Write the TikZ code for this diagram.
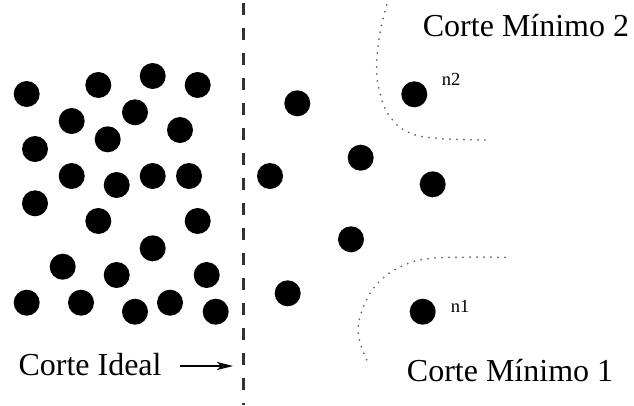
\documentclass[tikz,border=0pt]{standalone}
\usepackage{fontspec}
\setmainfont{Liberation Serif}
\usetikzlibrary{arrows.meta}
\begin{document}
\begin{tikzpicture}[x=1pt,y=-1pt,
  vertex/.style={circle,fill=black,minimum size=26pt,inner sep=0pt},
  biglbl/.style={font=\fontsize{32}{38}\selectfont,inner sep=0pt,anchor=base west},
  smalllbl/.style={font=\fontsize{18.5}{20}\selectfont,inner sep=0pt,anchor=base west},
  idealcut/.style={line width=3pt,dash pattern=on 12pt off 13pt,black!80},
  mincut/.style={line width=2pt,dash pattern=on 0pt off 7pt,line cap=round,black!60},
  pointer/.style={line width=1.2pt,-{Stealth[length=16pt,width=8pt,inset=4pt]}}]
\useasboundingbox (0,0) rectangle (634,405);
% left side nodes
\foreach \n/\x/\y in {l1/26.7/94, l2/98.3/85, l3/152.7/76, l4/197.7/85, l5/135/112.3,
  l6/71.7/121, l7/180/130, l8/107.7/139.3, l9/35/149, l10/71.7/176, l11/116.7/185,
  l12/152.7/176, l13/189/176, l14/35/203.3, l15/98.3/221, l16/197.7/221, l17/152.7/248.3,
  l18/62.7/266.7, l19/116.7/275, l20/206.7/275, l21/26.7/302.7, l22/81/302.7,
  l23/135/311.7, l24/170/302.7, l25/215.7/311.7}
  \node[vertex] (\n) at (\x,\y) {};
% right side nodes
\foreach \n/\x/\y in {r1/297.3/103.3, r2/360.7/157.7, r3/270/176, r4/432.7/184.3,
  r5/351/239.3, r6/287.7/293.3}
  \node[vertex] (\n) at (\x,\y) {};
\node[vertex] (n2) at (414.3,94.3) {};
\node[vertex] (n1) at (422.7,311.7) {};
\node[smalllbl] (n2lbl) at (441.7,85) {n2};
\node[smalllbl] (n1lbl) at (450.7,312.7) {n1};
% ideal cut
\coordinate (ctop) at (243,3);
\coordinate (cbot) at (243,405);
\draw[idealcut] (ctop) -- (cbot);
\node[biglbl] (ideal) at (18.3,375) {Corte Ideal};
\coordinate (astart) at (180,366);
\coordinate (aend) at (233,366);
\draw[pointer] (astart) -- (aend);
% minimum cuts
\draw[mincut] plot[smooth,tension=0.7] coordinates {(386.7,5) (380,33) (376.7,66.7) (380,93) (390,116.7) (410,133) (440,138.5) (491.7,140)};
\draw[mincut] plot[smooth,tension=0.7] coordinates {(505,257.3) (460,257.3) (430,258.5) (406.7,264) (382,279) (365,303) (358.3,333.3) (368.3,363.3)};
\node[biglbl] (min2) at (422.7,36.7) {Corte Mínimo 2};
\node[biglbl] (min1) at (406.7,381.7) {Corte Mínimo 1};
\end{tikzpicture}
\end{document}
